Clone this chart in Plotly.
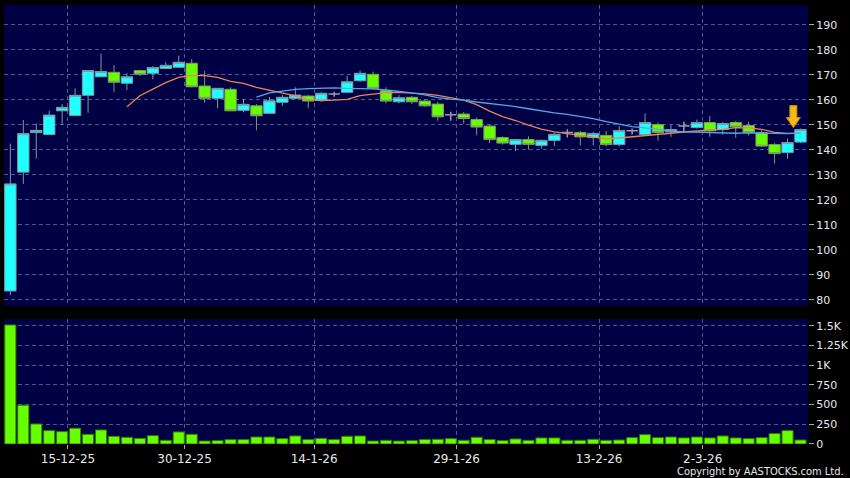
import plotly.graph_objects as go
import pandas as pd

# ---- data ----
opens = [83.6, 131.1, 146.9, 146.1, 155.6, 153.7, 161.8, 169.2, 171.0, 166.6,
         171.7, 170.6, 172.5, 173.0, 174.6, 165.5, 160.6, 164.2, 155.8, 157.6,
         154.6, 159.0, 160.6, 161.5, 159.9, 162.3, 163.0, 167.6, 170.2, 163.6,
         159.2, 161.0, 159.5, 158.3, 154.0, 154.3, 152.1, 149.5, 144.9, 142.2,
         144.1, 141.8, 143.8, 146.9, 146.9, 144.9, 145.8, 142.1, 147.6, 146.1,
         150.1, 147.2, 149.5, 148.9, 150.9, 148.1, 150.9, 149.7, 146.9, 142.1,
         138.9, 143.1]
highs = [142.5, 151.9, 150.5, 155.6, 158.3, 164.6, 171.7, 178.4, 173.9, 170.6,
         172.0, 173.5, 175.0, 177.6, 176.3, 171.5, 164.6, 165.0, 160.3, 158.3,
         161.2, 161.9, 165.0, 161.9, 163.0, 163.2, 169.6, 171.7, 171.3, 165.0,
         161.9, 161.5, 160.2, 159.2, 155.2, 155.1, 152.9, 150.0, 145.4, 144.4,
         145.4, 144.1, 146.9, 148.2, 147.6, 147.2, 147.6, 149.5, 148.5, 154.6,
         150.9, 150.0, 151.2, 152.1, 153.5, 151.2, 151.6, 151.2, 147.8, 142.7,
         144.5, 148.5]
lows = [81.9, 126.4, 136.5, 146.1, 150.0, 153.7, 154.8, 169.0, 163.0, 163.9,
        169.5, 168.2, 172.3, 172.6, 165.0, 158.8, 156.6, 155.6, 155.0, 147.8,
        154.6, 157.6, 160.2, 156.6, 159.2, 161.2, 163.0, 167.2, 163.9, 158.6,
        158.6, 158.3, 157.2, 151.6, 151.6, 150.5, 145.8, 142.7, 142.1, 139.5,
        140.1, 140.5, 141.5, 144.9, 141.8, 141.8, 141.4, 141.4, 146.1, 146.1,
        143.6, 145.2, 147.2, 148.5, 145.2, 146.1, 144.8, 145.8, 141.1, 134.5,
        136.5, 142.7]
closes = [126.4, 146.5, 147.8, 153.9, 157.0, 161.8, 171.7, 171.3, 167.0, 169.2,
          170.2, 172.9, 173.8, 175.0, 165.2, 160.6, 164.6, 155.6, 158.2, 153.6,
          159.6, 161.0, 161.9, 159.5, 162.6, 162.3, 167.2, 170.6, 164.6, 159.5,
          160.8, 159.2, 157.6, 153.2, 154.0, 152.5, 149.1, 144.1, 142.7, 144.1,
          142.2, 143.8, 146.2, 146.9, 145.2, 146.5, 142.1, 147.7, 147.6, 150.9,
          146.9, 148.1, 149.5, 150.9, 147.6, 150.5, 149.2, 146.9, 141.5, 138.5,
          142.9, 148.1]
volumes = [1510, 492, 254, 170, 157, 200, 123, 178, 98, 85,
           72, 106, 47, 153, 123, 38, 43, 56, 56, 89,
           89, 68, 102, 56, 72, 56, 98, 102, 38, 47,
           38, 43, 58, 60, 68, 47, 85, 56, 43, 64,
           47, 77, 77, 47, 47, 60, 47, 51, 81, 119,
           81, 89, 77, 89, 77, 102, 77, 68, 81, 132,
           170, 51]
doji_idx = [25, 34, 43, 48, 52]
date_tick_idx = [4, 13, 23, 34, 45, 53]
date_tick_labels = ["15-12-25", "30-12-25", "14-1-26", "29-1-26", "13-2-26", "2-3-26"]
price_ticks = [80, 90, 100, 110, 120, 130, 140, 150, 160, 170, 180, 190]
vol_ticks = [0, 250, 500, 750, 1000, 1250, 1500]
vol_tick_labels = ["0", "250", "500", "750", "1K", "1.25K", "1.5K"]

# ---- derived ----
x = list(range(len(closes)))
ma10 = pd.Series(closes).rolling(10).mean()
ma20 = pd.Series(closes).rolling(20).mean()
main_idx = [i for i in x if i not in doji_idx]

def pick(arr, idx):
    return [arr[i] for i in idx]

BG = "#000044"
GRID = "#55558c"
TXT = "#e8e8e8"

fig = go.Figure()

# volume
fig.add_trace(go.Bar(x=x, y=volumes, xaxis="x2", yaxis="y2", width=0.86,
                     marker=dict(color="#66ff00", line=dict(color="#2f7a00", width=1)),
                     showlegend=False, hoverinfo="skip"))

# moving averages
fig.add_trace(go.Scatter(x=x, y=ma10, mode="lines", line=dict(color="#e8845a", width=1.3),
                         showlegend=False, hoverinfo="skip"))
fig.add_trace(go.Scatter(x=x, y=ma20, mode="lines", line=dict(color="#4fa8e8", width=1.3),
                         showlegend=False, hoverinfo="skip"))

# candles
fig.add_trace(go.Candlestick(
    x=pick(x, main_idx), open=pick(opens, main_idx), high=pick(highs, main_idx),
    low=pick(lows, main_idx), close=pick(closes, main_idx),
    increasing=dict(fillcolor="#22ffff", line=dict(color="#7a9ca4", width=1)),
    decreasing=dict(fillcolor="#66ff00", line=dict(color="#7f9a6c", width=1)),
    whiskerwidth=0, showlegend=False, hoverinfo="skip"))
fig.add_trace(go.Candlestick(
    x=pick(x, doji_idx), open=pick(opens, doji_idx), high=pick(highs, doji_idx),
    low=pick(lows, doji_idx), close=pick(closes, doji_idx),
    increasing=dict(fillcolor="#9a9aaa", line=dict(color="#9a9aaa", width=1.5)),
    decreasing=dict(fillcolor="#9a9aaa", line=dict(color="#9a9aaa", width=1.5)),
    whiskerwidth=0, showlegend=False, hoverinfo="skip"))

last = len(closes) - 1
# gold down arrow above the last candle
fig.add_shape(type="path", xref="x", yref="y", xsizemode="pixel", ysizemode="pixel",
              xanchor=last - 0.55, yanchor=highs[last],
              path="M 0,1 L -7,11 L -3.5,11 L -3.5,23 L 3.5,23 L 3.5,11 L 7,11 Z",
              fillcolor="#f5b818", line=dict(color="#c98a0c", width=1), layer="above")

tickpos = [i + 0.45 for i in date_tick_idx]
xr = [-0.49, 61.58]
common_x = dict(range=xr, tickmode="array", tickvals=tickpos, showgrid=True,
                gridcolor=GRID, griddash="4px,3px", gridwidth=1, zeroline=False,
                showline=False, fixedrange=True)

fig.update_layout(
    width=850, height=478,
    margin=dict(l=4, r=42, t=5, b=34, autoexpand=False),
    paper_bgcolor="#000000", plot_bgcolor=BG,
    font=dict(family="DejaVu Sans", size=11, color=TXT),
    boxgap=0.12, boxgroupgap=0, barmode="overlay",
    showlegend=False,
    xaxis=dict(common_x, domain=[0, 1], anchor="y", showticklabels=False,
               rangeslider=dict(visible=False)),
    xaxis2=dict(common_x, domain=[0, 1], anchor="y2", ticktext=date_tick_labels,
                ticks="outside", ticklen=4, tickcolor="#aaaaaa", matches="x",
                tickfont=dict(size=12)),
    yaxis=dict(domain=[0.3144, 1], range=[77.6, 197.9], side="right",
               tickmode="array", tickvals=price_ticks, ticks="outside", ticklen=5,
               tickcolor="#aaaaaa", showgrid=True, gridcolor=GRID, griddash="4px,3px",
               zeroline=False, fixedrange=True),
    yaxis2=dict(domain=[0, 0.2847], range=[0, 1585], side="right",
                tickmode="array", tickvals=vol_ticks, ticktext=vol_tick_labels,
                ticks="outside", ticklen=5, tickcolor="#aaaaaa", showgrid=True,
                gridcolor=GRID, griddash="4px,3px", zeroline=False, fixedrange=True),
)

fig.add_annotation(text="Copyright by AASTOCKS.com Ltd.", xref="paper", yref="paper",
                   x=1.047, y=-0.063, xanchor="right", yanchor="middle",
                   showarrow=False,
                   font=dict(family="DejaVu Sans Condensed, DejaVu Sans", size=11, color=TXT))

fig.write_html("out.html", config={"displayModeBar": False},
               post_script="document.body.style.margin='0';document.body.style.background='#000';")
